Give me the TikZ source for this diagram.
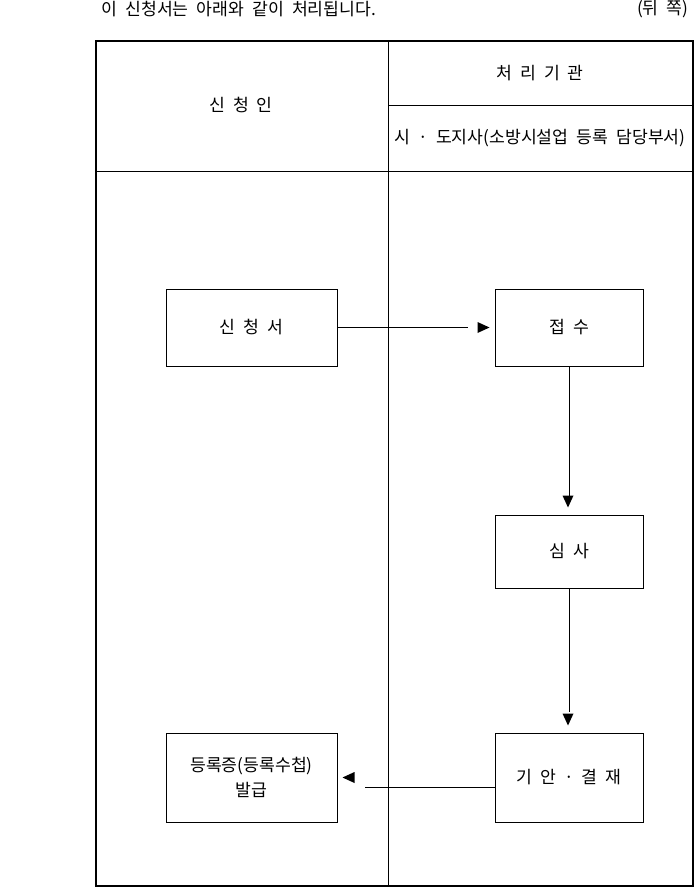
\documentclass[tikz,border=0pt]{standalone}
\usepackage{fontspec}
\setmainfont[WordSpace=2.1]{Noto Sans CJK KR}
\usetikzlibrary{positioning,calc}

\begin{document}
\begin{tikzpicture}[x=1pt,y=-1pt,
  font=\fontsize{17.2}{25}\selectfont,
  box/.style={draw,line width=1pt,align=center,inner sep=0pt},
  flow/.style={line width=1pt},
  rule/.style={line width=1pt}]

\useasboundingbox (0,0) rectangle (695,888);

\def\leftx{96}
\def\midx{388}
\def\rightx{693}

% frame and header
\coordinate (TL) at (\leftx,41);
\coordinate (BR) at (\rightx,886);
\coordinate (Mtop) at (\midx,41);
\coordinate (Mbot) at (\midx,886);
\coordinate (Hl) at (\leftx,171);
\coordinate (Hr) at (\rightx,171);
\coordinate (Sl) at (\midx,106);
\coordinate (Sr) at (\rightx,106);

\draw[line width=2pt] (TL) rectangle (BR);
\draw[rule] (Mtop) -- (Mbot);
\draw[rule] (Hl) -- (Hr);
\draw[rule] (Sl) -- (Sr);

\node[anchor=west] (title) at (98,9) {이 신청서는 아래와 같이 처리됩니다.};
\node[anchor=east] (page) at (692,9) {(뒤 쪽)};

\node (applicant) at (241,105) {신 청 인};
\node (agency) at (540,73) {처 리 기 관};
\node (office) at (540,138) {시 · 도지사(소방시설업 등록 담당부서)};

% flow boxes
\node[box,minimum width=171pt,minimum height=77pt] (form) at (251.5,327.5) {신 청 서};
\node[box,minimum width=148pt,minimum height=77pt] (receipt) at (569,327.5) {접 수};
\node[box,minimum width=148pt,minimum height=73pt] (review) at (569,551.5) {심 사};
\node[box,minimum width=148pt,minimum height=89pt] (approve) at (569,777.5) {기 안 · 결 재};
\node[box,minimum width=171pt,minimum height=89pt] (issue) at (251.5,777.5) {등록증(등록수첩)\\발급};

% connectors
\draw[flow,shorten >=27pt] (form) -- (receipt);
\fill ($(receipt.west)+(-5,0)$) -- ++(-12,-5.5) -- ++(0,11) -- cycle;

\draw[flow,shorten >=17pt] (receipt) -- (review);
\fill ($(review.north)+(-1,-7)$) -- ++(-5.5,-12) -- ++(11,0) -- cycle;

\draw[flow,shorten >=21pt] (review) -- (approve);
\fill ($(approve.north)+(-1,-7)$) -- ++(-5.5,-12) -- ++(11,0) -- cycle;

\draw[flow,shorten >=27pt] ($(approve.west)+(0,9.5)$) -- ($(issue.east)+(0,9.5)$);
\fill ($(issue.east)+(5,0)$) -- ++(12,-5.5) -- ++(0,11) -- cycle;

\end{tikzpicture}
\end{document}
